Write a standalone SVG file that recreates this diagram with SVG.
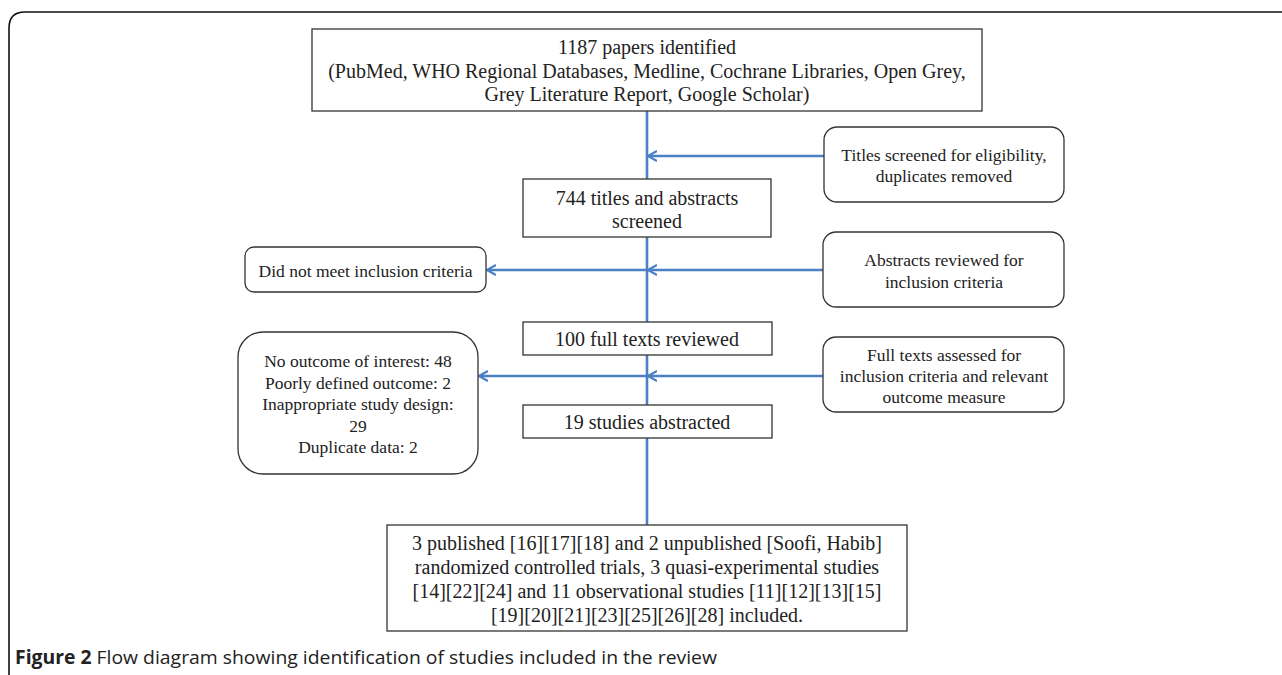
<svg xmlns="http://www.w3.org/2000/svg" width="1282" height="675" viewBox="0 0 1282 675">
<style>
.box{fill:#fff;stroke:#333;stroke-width:1.3}
.t20{font-family:"Liberation Serif","Times New Roman",serif;font-size:20px;fill:#222;text-anchor:middle}
.t17{font-family:"Liberation Serif","Times New Roman",serif;font-size:17.5px;fill:#222;text-anchor:middle}
.conn{stroke:#4a80c4;stroke-width:2.6;fill:none}
.cap{font-family:"Open Sans","Noto Sans",sans-serif;font-size:19px;fill:#222}
</style>
<defs>
<marker id="chev" viewBox="0 0 10 12" refX="9" refY="6" markerWidth="10" markerHeight="12" markerUnits="userSpaceOnUse" orient="auto">
<path d="M0,1 L9,6 L0,11" fill="none" stroke="#4a80c4" stroke-width="2.2"/>
</marker>
</defs>
<path d="M9,700 L9,28 Q9,12 25,12 L1300,12" fill="none" stroke="#111" stroke-width="1.6"/>
<g id="connectors">
<line class="conn" x1="647" y1="111" x2="647" y2="179"/>
<line class="conn" x1="647" y1="237" x2="647" y2="322"/>
<line class="conn" x1="647" y1="355" x2="647" y2="405"/>
<line class="conn" x1="647" y1="438" x2="647" y2="525"/>
<line class="conn" x1="824" y1="156" x2="648" y2="156" marker-end="url(#chev)"/>
<line class="conn" x1="823" y1="270" x2="648" y2="270" marker-end="url(#chev)"/>
<line class="conn" x1="647" y1="270" x2="487" y2="270" marker-end="url(#chev)"/>
<line class="conn" x1="823" y1="376" x2="648" y2="376" marker-end="url(#chev)"/>
<line class="conn" x1="647" y1="376" x2="479" y2="376" marker-end="url(#chev)"/>
</g>
<g id="n-identified">
<rect class="box" x="312" y="29" width="670" height="82"/>
<text class="t20" x="647" y="54">1187 papers identified</text>
<text class="t20" x="647" y="77.5">(PubMed, WHO Regional Databases, Medline, Cochrane Libraries, Open Grey,</text>
<text class="t20" x="647" y="101">Grey Literature Report, Google Scholar)</text>
</g>
<g id="n-titles">
<rect class="box" x="824" y="127" width="240" height="75" rx="13"/>
<text class="t17" x="944" y="161">Titles screened for eligibility,</text>
<text class="t17" x="944" y="182">duplicates removed</text>
</g>
<g id="n-744">
<rect class="box" x="523" y="179" width="248" height="58"/>
<text class="t20" x="647" y="205">744 titles and abstracts</text>
<text class="t20" x="647" y="228">screened</text>
</g>
<g id="n-abstracts">
<rect class="box" x="823" y="232" width="241" height="75" rx="13"/>
<text class="t17" x="944" y="266">Abstracts reviewed for</text>
<text class="t17" x="944" y="288">inclusion criteria</text>
</g>
<g id="n-notmeet">
<rect class="box" x="245" y="247" width="241" height="45" rx="9"/>
<text class="t17" x="365.5" y="277">Did not meet inclusion criteria</text>
</g>
<g id="n-100">
<rect class="box" x="523" y="322" width="249" height="33"/>
<text class="t20" x="647" y="346">100 full texts reviewed</text>
</g>
<g id="n-fulltexts">
<rect class="box" x="823" y="337" width="241" height="75" rx="13"/>
<text class="t17" x="944" y="361">Full texts assessed for</text>
<text class="t17" x="944" y="382">inclusion criteria and relevant</text>
<text class="t17" x="944" y="403">outcome measure</text>
</g>
<g id="n-excluded">
<rect class="box" x="238" y="332" width="240" height="142" rx="25"/>
<text class="t17" x="358" y="367">No outcome of interest: 48</text>
<text class="t17" x="358" y="388.5">Poorly defined outcome: 2</text>
<text class="t17" x="358" y="410">Inappropriate study design:</text>
<text class="t17" x="358" y="431.5">29</text>
<text class="t17" x="358" y="453">Duplicate data: 2</text>
</g>
<g id="n-19">
<rect class="box" x="523" y="405" width="249" height="33"/>
<text class="t20" x="647" y="429">19 studies abstracted</text>
</g>
<g id="n-included">
<rect class="box" x="387" y="525" width="520" height="106"/>
<text class="t20" x="647" y="550">3 published [16][17][18] and 2 unpublished [Soofi, Habib]</text>
<text class="t20" x="647" y="574">randomized controlled trials, 3 quasi-experimental studies</text>
<text class="t20" x="647" y="598">[14][22][24] and 11 observational studies [11][12][13][15]</text>
<text class="t20" x="647" y="622">[19][20][21][23][25][26][28] included.</text>
</g>
<text class="cap" x="15" y="664" textLength="702" lengthAdjust="spacingAndGlyphs"><tspan font-weight="bold">Figure 2</tspan> Flow diagram showing identification of studies included in the review</text>
</svg>
